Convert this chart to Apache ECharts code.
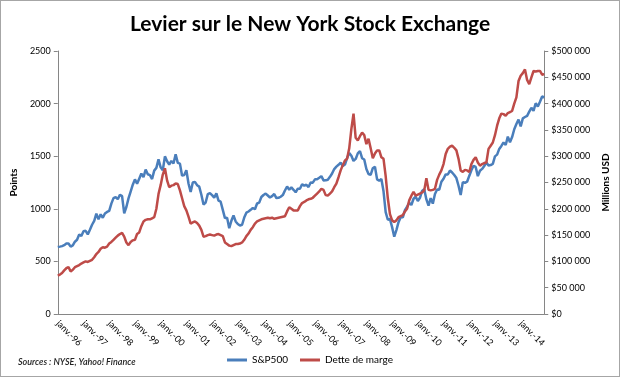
<!DOCTYPE html>
<html>
<head>
<meta charset="utf-8">
<script src="https://cdn.jsdelivr.net/npm/echarts@6/dist/echarts.min.js"></script>
<style>
  html, body { margin: 0; padding: 0; background: #fff; }
  #chart { width: 618px; height: 375px; border: 1px solid #a6a6a6; }
</style>
</head>
<body>
<div id="chart"></div>
<script>
// années affichées sur l'axe (une étiquette par janvier)
const years = ["96","97","98","99","00","01","02","03","04","05","06","07","08","09","10","11","12","13","14"];
const monthNames = ["janv.","févr.","mars","avr.","mai","juin","juil.","août","sept.","oct.","nov.","déc."];

// S&P500, clôtures mensuelles (points)
const sp500 = [
  636.0, 640.4, 645.5, 654.2, 669.1, 670.6, 639.9, 652.0, 687.3, 705.3, 757.0, 740.7,
  786.2, 790.8, 757.1, 801.3, 848.3, 885.1, 954.3, 899.5, 947.3, 914.6, 955.4, 970.4,
  980.3, 1049.3, 1101.8, 1111.8, 1090.8, 1133.8, 1120.7, 957.3, 1017.0, 1098.7, 1163.6, 1229.2,
  1279.6, 1238.3, 1286.4, 1335.2, 1301.8, 1372.7, 1328.7, 1320.4, 1282.7, 1362.9, 1388.9, 1469.3,
  1394.5, 1366.4, 1498.6, 1452.4, 1420.6, 1454.6, 1430.8, 1517.7, 1436.5, 1429.4, 1315.0, 1320.3,
  1366.0, 1239.9, 1160.3, 1249.5, 1255.8, 1224.4, 1211.2, 1133.6, 1040.9, 1059.8, 1139.5, 1148.1,
  1130.2, 1106.7, 1147.4, 1076.9, 1067.1, 989.8, 911.6, 916.1, 815.3, 885.8, 936.3, 879.8,
  855.7, 841.2, 848.2, 916.9, 963.6, 974.5, 990.3, 1008.0, 996.0, 1050.7, 1058.2, 1111.9,
  1131.1, 1144.9, 1126.2, 1107.3, 1120.7, 1140.8, 1101.7, 1104.2, 1114.6, 1130.2, 1173.8, 1211.9,
  1181.3, 1203.6, 1180.6, 1156.9, 1191.5, 1191.3, 1234.2, 1220.3, 1228.8, 1207.0, 1249.5, 1248.3,
  1280.1, 1280.7, 1294.9, 1310.6, 1270.1, 1270.2, 1276.7, 1303.8, 1335.9, 1377.9, 1400.6, 1418.3,
  1438.2, 1406.8, 1420.9, 1482.4, 1530.6, 1503.4, 1455.3, 1474.0, 1526.8, 1549.4, 1481.1, 1468.4,
  1378.6, 1330.6, 1322.7, 1385.6, 1400.4, 1280.0, 1267.4, 1282.8, 1166.4, 968.8, 896.2, 903.3,
  825.9, 735.1, 797.9, 872.8, 919.1, 919.3, 987.5, 1020.6, 1057.1, 1036.2, 1095.6, 1115.1,
  1073.9, 1104.5, 1169.4, 1186.7, 1089.4, 1030.7, 1101.6, 1049.3, 1141.2, 1183.3, 1180.6, 1257.6,
  1286.1, 1327.2, 1325.8, 1363.6, 1345.2, 1320.6, 1292.3, 1218.9, 1131.4, 1253.3, 1247.0, 1257.6,
  1312.4, 1365.7, 1408.5, 1397.9, 1310.3, 1362.2, 1379.3, 1406.6, 1440.7, 1412.2, 1416.2, 1426.2,
  1498.1, 1514.7, 1569.2, 1597.6, 1630.7, 1606.3, 1685.7, 1633.0, 1681.6, 1756.5, 1805.8, 1848.4,
  1782.6, 1859.5, 1872.3, 1884.0, 1923.6, 1960.2, 1930.7, 2003.4, 1972.3, 2018.1, 2067.6, 2058.9
];

// dette de marge NYSE (millions USD)
const detteMarge = [
  73000, 75000, 78000, 83000, 87000, 89000, 81000, 84000, 89000, 91000, 93000, 96000,
  98000, 100000, 99000, 101000, 103000, 108000, 114000, 118000, 124000, 127000, 126000, 128000,
  134000, 137000, 141000, 145000, 149000, 152000, 154000, 147000, 136000, 131000, 137000, 140000,
  141000, 152000, 155000, 167000, 176000, 179000, 180000, 180000, 182000, 184000, 200000, 228000,
  245000, 265000, 277000, 254000, 241000, 244000, 245000, 248000, 247000, 235000, 220000, 205000,
  197000, 185000, 172000, 174000, 176000, 173000, 168000, 160000, 147000, 148000, 150000, 151000,
  150000, 149000, 151000, 152000, 150000, 148000, 136000, 133000, 130000, 129000, 131000, 133000,
  133000, 134000, 136000, 141000, 148000, 153000, 160000, 165000, 172000, 176000, 178000, 180000,
  181000, 182000, 183000, 182000, 183000, 181000, 182000, 183000, 184000, 185000, 186000, 195000,
  203000, 200000, 197000, 197000, 197000, 205000, 211000, 213000, 216000, 218000, 219000, 221000,
  225000, 229000, 233000, 238000, 236000, 226000, 225000, 229000, 233000, 241000, 248000, 260000,
  273000, 283000, 292000, 295000, 315000, 352000, 381000, 335000, 330000, 338000, 345000, 340000,
  323000, 333000, 315000, 296000, 305000, 311000, 311000, 298000, 295000, 262000, 220000, 190000,
  178000, 175000, 178000, 184000, 186000, 188000, 195000, 200000, 216000, 225000, 232000, 225000,
  227000, 229000, 231000, 235000, 258000, 236000, 235000, 236000, 238000, 255000, 265000, 273000,
  285000, 304000, 314000, 318000, 320000, 316000, 311000, 295000, 273000, 270000, 274000, 273000,
  270000, 285000, 293000, 298000, 288000, 282000, 285000, 287000, 288000, 314000, 320000, 326000,
  340000, 358000, 372000, 381000, 380000, 377000, 382000, 384000, 386000, 400000, 412000, 443000,
  453000, 458000, 465000, 445000, 437000, 450000, 462000, 461000, 462000, 462000, 455000, 456000
];

// catégories mensuelles
const mois = [];
years.forEach(function (y) {
  monthNames.forEach(function (m) { mois.push(m + "-" + y); });
});

const fontFam = "Lato, 'Open Sans', sans-serif";

function dollars(v) {
  return "$" + String(v).replace(/\B(?=(\d{3})+(?!\d))/g, " ");
}

const chart = echarts.init(document.getElementById("chart"));
chart.setOption({
  animation: false,
  backgroundColor: "#fff",
  textStyle: { fontFamily: fontFam },
  title: {
    text: "Levier sur le New York Stock Exchange",
    left: "center",
    top: 8,
    textStyle: { fontSize: 21, fontWeight: "bold", color: "#000", fontFamily: fontFam }
  },
  grid: { left: 52, right: 63, top: 50, bottom: 62 },
  legend: {
    bottom: 6,
    left: "center",
    icon: "rect",
    itemWidth: 20,
    itemHeight: 3,
    itemGap: 12,
    textStyle: { fontSize: 10, color: "#000", fontFamily: fontFam },
    data: ["S&P500", "Dette de marge"]
  },
  graphic: [{
    type: "text",
    left: 17,
    bottom: 9,
    style: {
      text: "Sources : NYSE, Yahoo! Finance",
      fontSize: 9,
      fontStyle: "italic",
      fontWeight: 600,
      fontFamily: fontFam,
      fill: "#222"
    }
  }],
  xAxis: {
    type: "category",
    data: mois,
    boundaryGap: false,
    axisLine: { lineStyle: { color: "#868686", width: 1 } },
    axisTick: { show: false },
    axisLabel: {
      interval: function (i) { return i % 12 === 0; },
      rotate: -45,
      fontSize: 9,
      color: "#000",
      margin: 8
    },
    splitLine: { show: false }
  },
  yAxis: [{
    type: "value",
    min: 0,
    max: 2500,
    interval: 500,
    name: "Points",
    nameLocation: "middle",
    nameRotate: 90,
    nameGap: 34,
    nameTextStyle: { fontSize: 10, fontWeight: "bold", color: "#000" },
    axisLine: { show: true, lineStyle: { color: "#868686" } },
    axisTick: { show: true, length: 4, lineStyle: { color: "#868686" } },
    axisLabel: { fontSize: 9, color: "#000", margin: 7, formatter: function (v) { return String(v); } },
    splitLine: { show: false }
  }, {
    type: "value",
    min: 0,
    max: 500000,
    interval: 50000,
    position: "right",
    name: "Millions USD",
    nameLocation: "middle",
    nameRotate: 90,
    nameGap: 51,
    nameTextStyle: { fontSize: 10, fontWeight: "bold", color: "#000" },
    axisLine: { show: true, lineStyle: { color: "#868686" } },
    axisTick: { show: true, length: 4, lineStyle: { color: "#868686" } },
    axisLabel: { fontSize: 9, color: "#000", margin: 7, formatter: dollars },
    splitLine: { show: false }
  }],
  series: [{
    name: "S&P500",
    type: "line",
    data: sp500,
    yAxisIndex: 0,
    showSymbol: false,
    itemStyle: { color: "#4a7ebb" },
    lineStyle: { color: "#4a7ebb", width: 2.5 }
  }, {
    name: "Dette de marge",
    type: "line",
    data: detteMarge,
    yAxisIndex: 1,
    showSymbol: false,
    itemStyle: { color: "#be4b48" },
    lineStyle: { color: "#be4b48", width: 2.5 }
  }]
});
</script>
</body>
</html>
